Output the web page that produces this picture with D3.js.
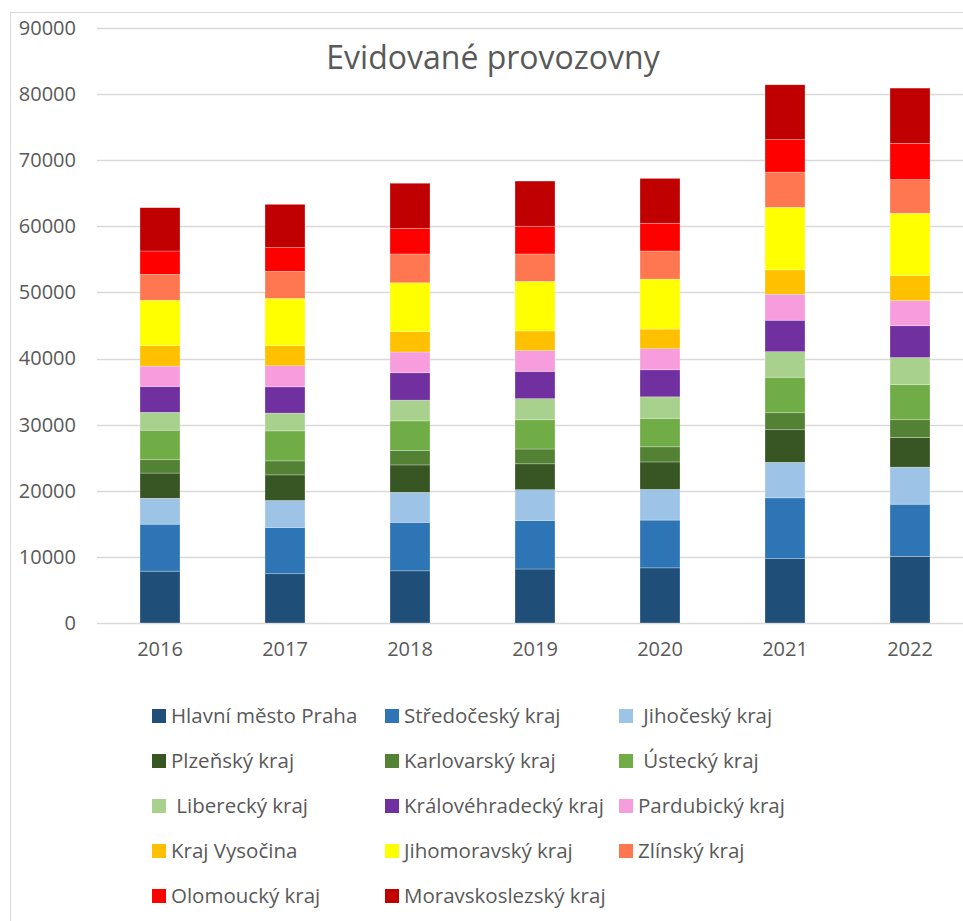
<!DOCTYPE html>
<html>
<head>
<meta charset="utf-8">
<script src="https://cdn.jsdelivr.net/npm/d3@7"></script>
<style>
  html, body { margin: 0; padding: 0; background: #ffffff; }
  svg { display: block; font-family: "Open Sans", sans-serif; }
</style>
</head>
<body>
<svg id="chart" width="963" height="921"></svg>
<script>
// Years on the category axis
const years = ["2016", "2017", "2018", "2019", "2020", "2021", "2022"];

// Regions, stacked from bottom to top
const regions = [
  "Hlavní město Praha", "Středočeský kraj", "Jihočeský kraj", "Plzeňský kraj",
  "Karlovarský kraj", "Ústecký kraj", "Liberecký kraj", "Královéhradecký kraj",
  "Pardubický kraj", "Kraj Vysočina", "Jihomoravský kraj", "Zlínský kraj",
  "Olomoucký kraj", "Moravskoslezský kraj"
];

// Legend labels as printed (a few carry a leading space)
const legendLabels = [
  "Hlavní město Praha", "Středočeský kraj", " Jihočeský kraj", "Plzeňský kraj",
  "Karlovarský kraj", " Ústecký kraj", " Liberecký kraj", "Královéhradecký kraj",
  "Pardubický kraj", "Kraj Vysočina", "Jihomoravský kraj", "Zlínský kraj",
  "Olomoucký kraj", "Moravskoslezský kraj"
];

const regionColors = [
  "#1f4e79", "#2e75b6", "#9dc3e6", "#375623", "#548235", "#70ad47", "#a9d18e",
  "#7030a0", "#f79ddd", "#ffc000", "#ffff00", "#ff7751", "#ff0000", "#c00000"
];

// Registered establishments per region, one array per region (2016..2022)
const praha          = [7840, 7450, 7890, 8170, 8340, 9740, 10080];
const stredocesky    = [7110, 7000, 7340, 7340, 7230, 9190, 7890];
const jihocesky      = [3920, 4080, 4530, 4650, 4640, 5370, 5600];
const plzensky       = [3810, 3870, 4150, 3920, 4150, 4930, 4480];
const karlovarsky    = [2010, 2120, 2180, 2240, 2290, 2570, 2690];
const ustecky        = [4480, 4540, 4480, 4420, 4310, 5380, 5320];
const liberecky      = [2690, 2690, 3140, 3190, 3250, 3860, 4090];
const kralovehradecky= [3920, 3970, 4140, 4140, 4090, 4760, 4810];
const pardubicky     = [3080, 3190, 3140, 3140, 3190, 3920, 3810];
const vysocina       = [3080, 3030, 3080, 2970, 2970, 3690, 3810];
const jihomoravsky   = [6880, 7160, 7390, 7500, 7560, 9470, 9400];
const zlinsky        = [3920, 4090, 4360, 4140, 4250, 5320, 5100];
const olomoucky      = [3530, 3580, 3870, 4200, 4200, 4920, 5480];
const moravskoslezsky= [6550, 6560, 6830, 6830, 6780, 8290, 8350];

const yTicks = [0, 10000, 20000, 30000, 40000, 50000, 60000, 70000, 80000, 90000];

const seriesValues = [
  praha, stredocesky, jihocesky, plzensky, karlovarsky, ustecky, liberecky,
  kralovehradecky, pardubicky, vysocina, jihomoravsky, zlinsky, olomoucky, moravskoslezsky
];

// Row-wise table for d3.stack
const table = years.map((yr, i) => {
  const row = { year: yr };
  regions.forEach((r, k) => { row[r] = seriesValues[k][i]; });
  return row;
});

const svg = d3.select("#chart");
const textColor = "#595959";
const gridColor = "#d9d9d9";

// Chart frame
svg.append("rect")
  .attr("x", 10.5).attr("y", 12.5)
  .attr("width", 1000).attr("height", 1000)
  .attr("fill", "none").attr("stroke", gridColor).attr("stroke-width", 1);

const x = d3.scaleBand()
  .domain(years)
  .range([97.5, 972.5])
  .paddingInner(0.68)
  .paddingOuter(0.34);

const y = d3.scaleLinear()
  .domain([0, 90000])
  .range([623, 28]);

// Horizontal gridlines
svg.append("g")
  .selectAll("line")
  .data(yTicks)
  .join("line")
  .attr("x1", 97).attr("x2", 963)
  .attr("y1", d => Math.round(y(d)) + 0.5)
  .attr("y2", d => Math.round(y(d)) + 0.5)
  .attr("stroke", gridColor).attr("stroke-width", 1.3);

// Y axis labels
const yAxis = d3.axisLeft(y).tickValues(yTicks).tickSize(0).tickPadding(0).tickFormat(d3.format("d"));
const gy = svg.append("g").attr("transform", "translate(76,0)").call(yAxis);
gy.select(".domain").remove();
gy.selectAll("text")
  .attr("fill", textColor)
  .style("font-size", "20px")
  .style("font-family", "'Open Sans', sans-serif");

// X axis labels
const xAxis = d3.axisBottom(x).tickSize(0).tickPadding(0);
const gx = svg.append("g").attr("transform", "translate(0,642)").call(xAxis);
gx.select(".domain").remove();
gx.selectAll("text")
  .attr("fill", textColor)
  .style("font-size", "20px")
  .style("font-family", "'Open Sans', sans-serif");

// Stacked bars
const stacked = d3.stack().keys(regions)(table);
svg.append("g")
  .selectAll("g")
  .data(stacked)
  .join("g")
  .attr("fill", (d, i) => regionColors[i])
  .selectAll("rect")
  .data(d => d)
  .join("rect")
  .attr("x", d => x(d.data.year))
  .attr("width", x.bandwidth())
  .attr("y", d => y(d[1]))
  .attr("height", d => y(d[0]) - y(d[1]))
  .attr("stroke", "rgba(255,255,255,0.45)")
  .attr("stroke-width", 0.6);

// Title
svg.append("text")
  .attr("x", 493).attr("y", 69)
  .attr("text-anchor", "middle")
  .attr("fill", textColor)
  .style("font-size", "32px")
  .text("Evidované provozovny");

// Legend: three columns, five rows
const legendCols = [152, 385, 619];
const legendRow0 = 716, legendRowStep = 45;
const legend = svg.append("g")
  .selectAll("g")
  .data(legendLabels)
  .join("g")
  .attr("transform", (d, i) =>
    `translate(${legendCols[i % 3]},${legendRow0 + Math.floor(i / 3) * legendRowStep})`);

legend.append("rect")
  .attr("x", 0).attr("y", -7)
  .attr("width", 14).attr("height", 14)
  .attr("fill", (d, i) => regionColors[i]);

legend.append("text")
  .attr("x", 19).attr("y", 0)
  .attr("dy", "0.35em")
  .attr("fill", textColor)
  .style("font-size", "20.5px")
  .style("white-space", "pre")
  .text(d => d);
</script>
</body>
</html>
